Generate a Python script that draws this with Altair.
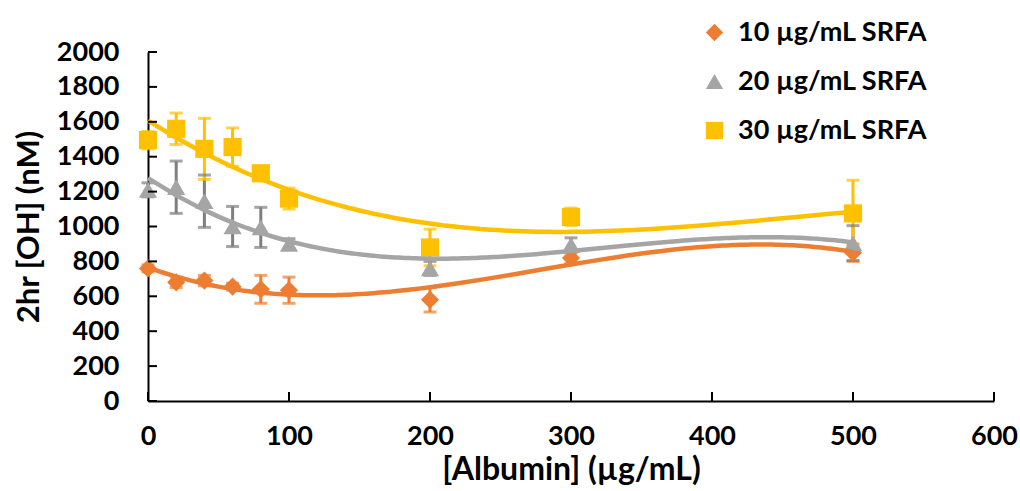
import altair as alt
import pandas as pd

albumin = [0, 20, 40, 60, 80, 100, 200, 300, 500]
srfa10 = [760, 680, 690, 655, 640, 635, 580, 820, 850]
srfa10_err = [20, 30, 30, 20, 80, 75, 70, 30, 50]
srfa20 = [1210, 1225, 1145, 1000, 995, 900, 760, 895, 905]
srfa20_err = [40, 150, 150, 115, 115, 30, 40, 40, 100]
srfa30 = [1495, 1560, 1445, 1455, 1305, 1160, 880, 1055, 1075]
srfa30_err = [50, 90, 175, 110, 40, 60, 105, 50, 190]

series_names = ["10 µg/mL SRFA", "20 µg/mL SRFA", "30 µg/mL SRFA"]
colors = ["#ED7D31", "#A5A5A5", "#FFC000"]
err_colors = ["#ED7D31", "#7F7F7F", "#FFC000"]
shapes = ["diamond", "triangle-up", "square"]

x_ticks = [0, 100, 200, 300, 400, 500, 600]
y_ticks = list(range(0, 2001, 200))

rows = []
for name, vals, errs, ec in zip(series_names, [srfa10, srfa20, srfa30],
                                [srfa10_err, srfa20_err, srfa30_err], err_colors):
    for a, v, e in zip(albumin, vals, errs):
        rows.append({"albumin": a, "oh": v, "lo": v - e, "hi": v + e,
                     "series": name, "ecolor": ec})
df = pd.DataFrame(rows)

FONT = "Lato"
W, H = 846, 349

xs = alt.Scale(domain=[0, 600], nice=False, zero=False)
ys = alt.Scale(domain=[0, 2000], nice=False)
cscale = alt.Scale(domain=series_names, range=colors)
sscale = alt.Scale(domain=series_names, range=shapes)

xaxis = alt.Axis(title="[Albumin] (µg/mL)", values=x_ticks, tickSize=0, format="d",
                 labelPadding=22, titlePadding=5, grid=False, labelOverlap=False,
                 labelFlush=False)
yaxis = alt.Axis(title="2hr [OH]  (nM)", values=y_ticks, tickSize=0, format="d",
                 labelPadding=29, titlePadding=11, grid=False, labelOverlap=False)

base = alt.Chart(df)

err_rule = base.mark_rule(strokeWidth=3).encode(
    x=alt.X("albumin:Q", scale=xs, axis=xaxis),
    y=alt.Y("lo:Q", scale=ys, axis=yaxis),
    y2="hi:Q",
    stroke=alt.Stroke("ecolor:N", scale=None, legend=None),
)
err_cap_hi = base.mark_tick(thickness=3, size=13, orient="horizontal", filled=True).encode(
    x=alt.X("albumin:Q", scale=xs, axis=xaxis),
    y=alt.Y("hi:Q", scale=ys, axis=yaxis),
    fill=alt.Fill("ecolor:N", scale=None, legend=None),
)
err_cap_lo = base.mark_tick(thickness=3, size=13, orient="horizontal", filled=True).encode(
    x=alt.X("albumin:Q", scale=xs, axis=xaxis),
    y=alt.Y("lo:Q", scale=ys, axis=yaxis),
    fill=alt.Fill("ecolor:N", scale=None, legend=None),
)

leg = alt.Legend(title=None, orient="none", legendX=553, legendY=-33,
                 symbolSize=300, labelFontSize=27, labelFont=FONT,
                 labelFontWeight="bold", labelColor="black", labelLimit=0,
                 rowPadding=21, labelOffset=10, symbolOpacity=1, symbolStrokeWidth=0)

points = base.mark_point(filled=True, opacity=1, size=330).encode(
    x=alt.X("albumin:Q", scale=xs, axis=xaxis),
    y=alt.Y("oh:Q", scale=ys, axis=yaxis),
    color=alt.Color("series:N", scale=cscale, legend=leg),
    shape=alt.Shape("series:N", scale=sscale, legend=leg),
)

lines = base.transform_regression(
    "albumin", "oh", groupby=["series"], method="poly", order=3, extent=[0, 500]
).mark_line(strokeWidth=4.5).encode(
    x=alt.X("albumin:Q", scale=xs, axis=xaxis),
    y=alt.Y("oh:Q", scale=ys, axis=yaxis),
    color=alt.Color("series:N", scale=cscale, legend=leg),
)

xt = alt.Chart(pd.DataFrame({"t": x_ticks})).mark_rule(color="black", strokeWidth=2).encode(
    x=alt.X("t:Q", scale=xs, axis=xaxis), y=alt.value(H), y2=alt.value(H - 9)
)
yt = alt.Chart(pd.DataFrame({"t": y_ticks})).mark_rule(color="black", strokeWidth=2).encode(
    y=alt.Y("t:Q", scale=ys, axis=yaxis), x=alt.value(0), x2=alt.value(9)
)

chart = alt.layer(err_rule, err_cap_hi, err_cap_lo, points, lines, xt, yt).properties(
    width=W, height=H,
    autosize="none",
    padding={"left": 148, "top": 52, "right": 26, "bottom": 90},
).configure_view(stroke=None).configure_axis(
    domainColor="black", domainWidth=2,
    labelFont=FONT, labelFontWeight="bold", labelColor="black",
    titleFont=FONT, titleFontWeight="bold", titleColor="black",
).configure_axisX(labelFontSize=27, titleFontSize=32).configure_axisY(
    labelFontSize=27, titleFontSize=31
)

chart.save("out.html", embed_options={"renderer": "svg", "actions": False})
